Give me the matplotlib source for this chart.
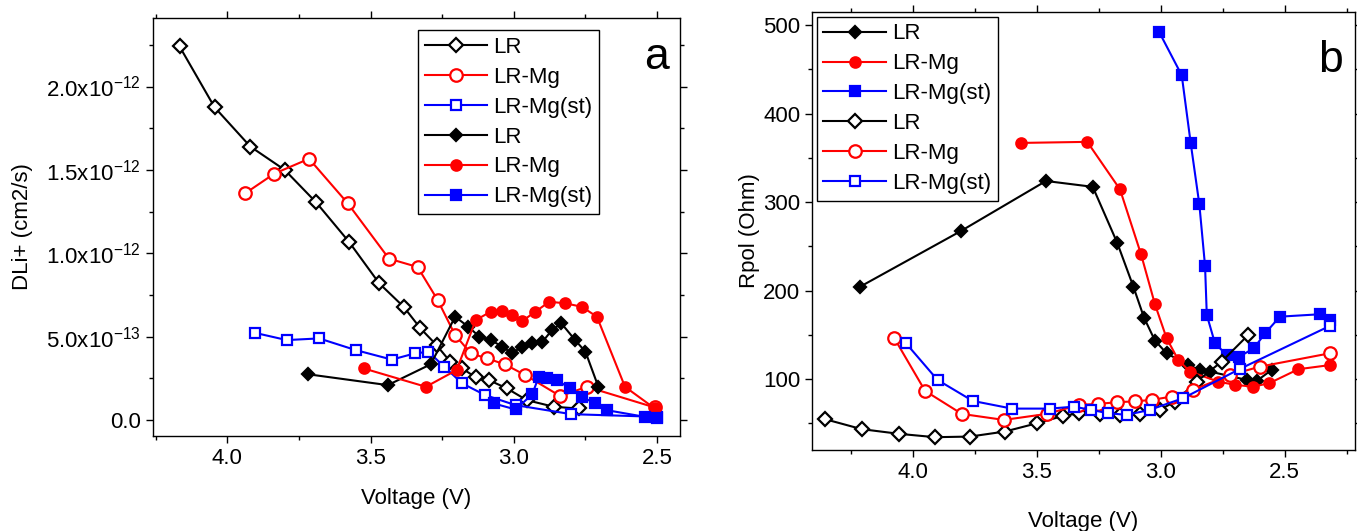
import matplotlib
matplotlib.use('Agg')
import matplotlib.pyplot as plt
from matplotlib.ticker import MultipleLocator, FuncFormatter

plt.rcParams['font.family'] = ['Liberation Sans', 'DejaVu Sans']
plt.rcParams['mathtext.fontset'] = 'custom'
plt.rcParams['mathtext.rm'] = 'Liberation Sans'
plt.rcParams['mathtext.it'] = 'Liberation Sans'

# ---- panel a: DLi+ vs voltage ----
a_lr_open_v = [4.167, 4.045, 3.92, 3.80, 3.69, 3.576, 3.47, 3.385, 3.326, 3.27, 3.222, 3.18,
               3.133, 3.087, 3.024, 2.955, 2.86, 2.774]
a_lr_open_d = [2.24, 1.876, 1.64, 1.50, 1.305, 1.07, 0.82, 0.68, 0.55, 0.45, 0.35, 0.31,
               0.256, 0.24, 0.19, 0.12, 0.08, 0.07]
a_mg_open_v = [3.9375, 3.837, 3.715, 3.58, 3.436, 3.336, 3.266, 3.205, 3.15, 3.093, 3.031,
               2.96, 2.838, 2.745, 2.508]
a_mg_open_d = [1.36, 1.477, 1.567, 1.30, 0.968, 0.918, 0.72, 0.51, 0.40, 0.37, 0.334,
               0.27, 0.144, 0.20, 0.076]
a_st_open_v = [3.903, 3.793, 3.68, 3.552, 3.426, 3.346, 3.298, 3.243, 3.18, 3.10, 2.994, 2.80, 2.50]
a_st_open_d = [0.523, 0.48, 0.49, 0.42, 0.363, 0.40, 0.41, 0.32, 0.22, 0.15, 0.09, 0.036, 0.02]
a_lr_fill_v = [3.718, 3.44, 3.29, 3.205, 3.159, 3.12, 3.08, 3.04, 3.006, 2.973, 2.936, 2.90,
               2.867, 2.834, 2.786, 2.75, 2.705]
a_lr_fill_d = [0.275, 0.21, 0.335, 0.62, 0.56, 0.50, 0.48, 0.44, 0.40, 0.44, 0.46, 0.47,
               0.54, 0.58, 0.48, 0.41, 0.20]
a_mg_fill_v = [3.524, 3.307, 3.20, 3.133, 3.081, 3.043, 3.006, 2.97, 2.925, 2.876, 2.82,
               2.763, 2.71, 2.612, 2.508]
a_mg_fill_d = [0.31, 0.20, 0.30, 0.60, 0.65, 0.655, 0.63, 0.595, 0.65, 0.71, 0.70,
               0.68, 0.62, 0.20, 0.07]
a_st_fill_v = [3.07, 2.994, 2.936, 2.913, 2.884, 2.85, 2.803, 2.763, 2.716, 2.676, 2.543, 2.50]
a_st_fill_d = [0.10, 0.064, 0.155, 0.26, 0.255, 0.24, 0.19, 0.14, 0.10, 0.06, 0.02, 0.01]
a_yticks = [0.0, 5e-13, 1.0e-12, 1.5e-12, 2.0e-12]

# ---- panel b: Rpol vs voltage ----
b_lr_fill_v = [4.2125, 3.806, 3.4625, 3.274, 3.175, 3.11, 3.067, 3.023, 2.976, 2.889, 2.842,
               2.80, 2.653, 2.613, 2.552]
b_lr_fill_r = [204.5, 267.4, 324, 317.4, 254, 204.5, 169.5, 143.6, 129.3, 116, 110.5,
               108.6, 99.2, 98, 110.6]
b_mg_fill_v = [3.565, 3.296, 3.164, 3.079, 3.023, 2.976, 2.929, 2.882, 2.768, 2.70, 2.627,
               2.562, 2.445, 2.317]
b_mg_fill_r = [367, 368.2, 314.5, 241, 184.6, 146.3, 121.8, 108.6, 97.3, 93.6, 91.6,
               95.5, 111.3, 116]
b_st_fill_v = [3.006, 2.915, 2.879, 2.844, 2.821, 2.814, 2.781, 2.734, 2.683, 2.624, 2.579,
               2.519, 2.358, 2.317]
b_st_fill_r = [492.3, 443.4, 367, 297.5, 227.9, 172.6, 140.6, 127.4, 125.5, 135, 151.9,
               170.7, 173.4, 167]
b_lr_open_v = [4.354, 4.206, 4.055, 3.91, 3.769, 3.628, 3.498, 3.393, 3.328, 3.245, 3.164,
               3.083, 3.003, 2.943, 2.855, 2.754, 2.647]
b_lr_open_r = [54.9, 43.6, 38.3, 34.5, 35.2, 40.9, 50.3, 58.6, 61.6, 60.5, 59.7,
               60.5, 65.4, 74.7, 97.3, 119.9, 150]
b_mg_open_v = [4.074, 3.95, 3.802, 3.632, 3.46, 3.328, 3.252, 3.177, 3.104, 3.036, 2.956,
               2.869, 2.72, 2.60, 2.318]
b_mg_open_r = [146.3, 86.8, 60.8, 54, 60.8, 71, 72.1, 74, 75, 76.6, 80.4,
               88, 104.8, 114.2, 129.3]
b_st_open_v = [4.027, 3.90, 3.758, 3.60, 3.446, 3.35, 3.282, 3.211, 3.137, 3.044, 2.909,
               2.681, 2.318]
b_st_open_r = [140.6, 99.2, 75.5, 66.8, 66.8, 69, 65.4, 61.6, 59.7, 65.4, 78.6,
               111.6, 160.2]
b_yticks = [100, 200, 300, 400, 500]
v_ticks = [4.0, 3.5, 3.0, 2.5]

FS = 16


def series(ax, v, y, color, marker, ms, filled, label):
    face = color if filled else 'white'
    ax.plot(v, y, color=color, lw=1.5, marker=marker, ms=ms, mfc=face,
            mec=color, mew=1.6, label=label)


def style_axes(ax):
    ax.tick_params(which='both', labelsize=FS, width=1.0)
    ax.tick_params(which='major', length=5)
    ax.tick_params(which='minor', length=3)
    ax.tick_params(which='both', top=True, right=True)
    for s in ax.spines.values():
        s.set_linewidth(1.0)


def add_legend(ax, anchor):
    leg = ax.legend(loc='upper left', bbox_to_anchor=anchor, borderaxespad=0, fontsize=FS,
                    handlelength=2.8, labelspacing=0.4, handletextpad=0.3, borderpad=0.3,
                    fancybox=False, edgecolor='black', framealpha=1)
    leg.get_frame().set_linewidth(1.0)


def sci_fmt(y, pos):
    if abs(y) < 1e-20:
        return '0.0'
    exp = int(f'{y:e}'.split('e')[1])
    mant = y / 10 ** exp
    return f'{mant:.1f}x10$^{{{exp}}}$'


fig = plt.figure(figsize=(13.57, 5.31), dpi=100)

# panel a
ax = fig.add_axes([0.1127, 0.1789, 0.3884, 0.787])
series(ax, a_lr_open_v, [d * 1e-12 for d in a_lr_open_d], 'black', 'D', 7.5, False, 'LR')
series(ax, a_mg_open_v, [d * 1e-12 for d in a_mg_open_d], 'red', 'o', 9, False, 'LR-Mg')
series(ax, a_st_open_v, [d * 1e-12 for d in a_st_open_d], 'blue', 's', 7.5, False, 'LR-Mg(st)')
series(ax, a_lr_fill_v, [d * 1e-12 for d in a_lr_fill_d], 'black', 'D', 6, True, 'LR')
series(ax, a_mg_fill_v, [d * 1e-12 for d in a_mg_fill_d], 'red', 'o', 7.5, True, 'LR-Mg')
series(ax, a_st_fill_v, [d * 1e-12 for d in a_st_fill_d], 'blue', 's', 6.5, True, 'LR-Mg(st)')
ax.set_xlim(4.26, 2.42)
ax.set_ylim(-0.95e-13, 2.41e-12)
ax.set_xticks(v_ticks)
ax.xaxis.set_minor_locator(MultipleLocator(0.25))
ax.set_yticks(a_yticks)
ax.yaxis.set_minor_locator(MultipleLocator(2.5e-13))
ax.yaxis.set_major_formatter(FuncFormatter(sci_fmt))
ax.xaxis.set_major_formatter(FuncFormatter(lambda x, p: f'{x:.1f}'))
style_axes(ax)
ax.set_xlabel('Voltage (V)', fontsize=FS, labelpad=14)
ax.set_ylabel('DLi+ (cm2/s)', fontsize=FS, labelpad=10)
add_legend(ax, (0.503, 0.971))
ax.text(0.955, 0.905, 'a', transform=ax.transAxes, fontsize=32, ha='center', va='center')

# panel b
bx = fig.add_axes([0.5984, 0.1525, 0.400, 0.825])
series(bx, b_lr_fill_v, b_lr_fill_r, 'black', 'D', 6, True, 'LR')
series(bx, b_mg_fill_v, b_mg_fill_r, 'red', 'o', 7.5, True, 'LR-Mg')
series(bx, b_st_fill_v, b_st_fill_r, 'blue', 's', 6.5, True, 'LR-Mg(st)')
series(bx, b_lr_open_v, b_lr_open_r, 'black', 'D', 7.5, False, 'LR')
series(bx, b_mg_open_v, b_mg_open_r, 'red', 'o', 9, False, 'LR-Mg')
series(bx, b_st_open_v, b_st_open_r, 'blue', 's', 7.5, False, 'LR-Mg(st)')
bx.set_xlim(4.406, 2.217)
bx.set_ylim(20, 515)
bx.set_xticks(v_ticks)
bx.xaxis.set_minor_locator(MultipleLocator(0.25))
bx.set_yticks(b_yticks)
bx.yaxis.set_minor_locator(MultipleLocator(50))
bx.xaxis.set_major_formatter(FuncFormatter(lambda x, p: f'{x:.1f}'))
style_axes(bx)
bx.set_xlabel('Voltage (V)', fontsize=FS, labelpad=20)
bx.set_ylabel('Rpol (Ohm)', fontsize=FS, labelpad=2)
add_legend(bx, (0.0087, 0.989))
bx.text(0.955, 0.89, 'b', transform=bx.transAxes, fontsize=32, ha='center', va='center')

fig.savefig('out.png', dpi=100)
